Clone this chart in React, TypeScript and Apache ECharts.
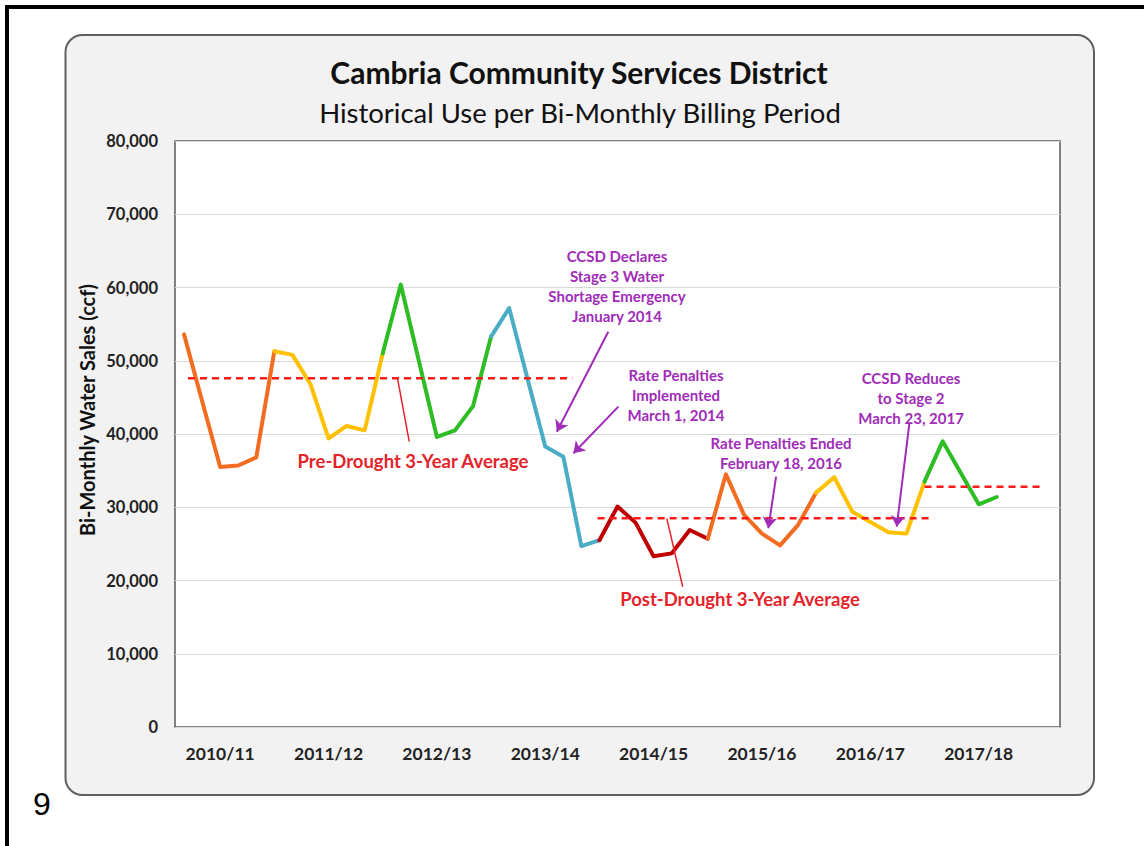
import React, { useEffect, useRef } from "react";
import * as echarts from "echarts";

// ---- data ----
const fiscalYears = ["2010/11", "2011/12", "2012/13", "2013/14", "2014/15", "2015/16", "2016/17", "2017/18", "2018/19"];
const periodsPerYear = 6;
const categoryCount = 49;
const categories: string[] = Array.from({ length: categoryCount }, (_, i) => fiscalYears[Math.floor(i / periodsPerYear)] + " P" + ((i % periodsPerYear) + 1));

// bi-monthly water sales (ccf)
const salesValues = [
  53600, 44500, 35500, 35700, 36800, 51300,
  50800, 46800, 39400, 41100, 40500, 51000,
  60400, 50000, 39600, 40500, 43800, 53300,
  57200, 47700, 38300, 36900, 24700, 25500,
  30100, 27900, 23300, 23700, 26900, 25700,
  34500, 29000, 26400, 24800, 27600, 32000,
  34100, 29400, 28000, 26600, 26400, 33500,
  39000, 34700, 30400, 31400,
];
const yearColors = ["#f26d21", "#ffc000", "#2ebd24", "#4bacc6", "#c00000", "#f26d21", "#ffc000", "#2ebd24"];

const yTicks = { min: 0, max: 80000, interval: 10000 };

// averages: [startIndex, endIndex, value]
const averageLines: [number, number, number][] = [
  [0.22, 21.5, 47600],
  [22.9, 41.5, 28500],
  [41.0, 47.6, 32800],
];
// leader lines from average lines to their labels
const averageLeaders: [number, number, number, number][] = [
  [11.81, 47740, 12.47, 38950],
  [26.73, 28490, 27.61, 19150],
];
// annotation arrows [x1, y1, x2, y2] (x = period index)
const eventArrows: [number, number, number, number][] = [
  [23.49, 53970, 20.64, 40310],
  [24.05, 43730, 21.56, 37370],
  [32.78, 34170, 32.35, 27130],
  [40.16, 41460, 39.46, 27340],
];

const eventTexts = [
  { text: "CCSD Declares\nStage 3 Water\nShortage Emergency\nJanuary 2014", x: 617, y: 286 },
  { text: "Rate Penalties\nImplemented\nMarch 1, 2014", x: 676, y: 395 },
  { text: "Rate Penalties Ended\nFebruary 18, 2016", x: 781, y: 453 },
  { text: "CCSD Reduces\nto Stage 2\nMarch 23, 2017", x: 911, y: 398 },
];
const averageTexts = [
  { text: "Pre-Drought 3-Year Average", x: 413, y: 461 },
  { text: "Post-Drought 3-Year Average", x: 740, y: 599 },
];

const FONT = "Lato, 'Open Sans', sans-serif";
const PURPLE = "#a02cb8";
const RED = "#e3242b";

function textEl(text: string, x: number, y: number, size: number, weight: string, fill: string, lineHeight: number, extra: any = {}) {
  return {
    type: "text",
    x,
    y,
    z: 100,
    ...extra,
    style: {
      text,
      fontSize: size,
      fontWeight: weight,
      fontFamily: FONT,
      fill,
      textAlign: "center",
      textVerticalAlign: "middle",
      align: "center",
      verticalAlign: "middle",
      lineHeight,
    },
  };
}

export default function App() {
  const ref = useRef<HTMLDivElement>(null);
  useEffect(() => {
    document.body.style.margin = "0";
    if (!ref.current) return;
    const chart = echarts.init(ref.current, null, { renderer: "svg" });

    const yearSeries = yearColors.map((color, k) => ({
      type: "line",
      name: fiscalYears[k],
      xAxisIndex: 0,
      yAxisIndex: 0,
      symbol: "none",
      connectNulls: false,
      lineStyle: { color, width: 4, cap: "round", join: "round" },
      z: 5,
      data: categories.map((_, i) =>
        i >= k * periodsPerYear - 1 && i <= k * periodsPerYear + 5 && i < salesValues.length ? salesValues[i] : null
      ),
    }));

    const avgSeries = averageLines.map(([a, b, v]) => ({
      type: "line",
      xAxisIndex: 1,
      yAxisIndex: 0,
      symbol: "none",
      lineStyle: { color: "#ff1a1a", width: 2.5, type: [7, 5] },
      z: 6,
      data: [[a, v], [b, v]],
    }));

    const leaderSeries = {
      type: "lines",
      coordinateSystem: "cartesian2d",
      xAxisIndex: 1,
      yAxisIndex: 0,
      symbol: "none",
      lineStyle: { color: RED, width: 1.5, opacity: 1 },
      z: 6,
      data: averageLeaders.map(([x1, y1, x2, y2]) => ({ coords: [[x1, y1], [x2, y2]] })),
    };

    const arrowSeries = {
      type: "lines",
      coordinateSystem: "cartesian2d",
      xAxisIndex: 1,
      yAxisIndex: 0,
      symbol: ["none", "arrow"],
      symbolSize: [0, 11],
      lineStyle: { color: PURPLE, width: 2, opacity: 1 },
      z: 7,
      data: eventArrows.map(([x1, y1, x2, y2]) => ({ coords: [[x1, y1], [x2, y2]] })),
    };

    const graphics: any[] = [
      { type: "rect", z: -20, shape: { x: 5, y: 5, width: 1139, height: 4 }, style: { fill: "#000" } },
      { type: "rect", z: -20, shape: { x: 5, y: 5, width: 4, height: 841 }, style: { fill: "#000" } },
      {
        type: "rect",
        z: -10,
        shape: { x: 65.5, y: 35, width: 1028.5, height: 760, r: 17 },
        style: { fill: "#f2f2f2", stroke: "#5f5f5f", lineWidth: 2 },
      },
      {
        type: "text",
        x: 33,
        y: 820,
        z: 100,
        style: { text: "9", fontSize: 32, fontFamily: "'Liberation Sans', Arial, sans-serif", fill: "#000", textAlign: "left", align: "left", textVerticalAlign: "bottom", verticalAlign: "bottom" },
      },
      textEl("Cambria Community Services District", 579, 72, 30, "bold", "#111", 36),
      textEl("Historical Use per Bi-Monthly Billing Period", 580, 112, 27.5, "normal", "#111", 32),
      textEl("Bi-Monthly Water Sales (ccf)", 87, 410, 20, "bold", "#111", 24, { rotation: Math.PI / 2 }),
      ...eventTexts.map((t) => textEl(t.text, t.x, t.y, 15, "bold", PURPLE, 20)),
      ...averageTexts.map((t) => textEl(t.text, t.x, t.y, 18.5, "bold", RED, 22)),
    ];

    chart.setOption({
      animation: false,
      backgroundColor: "#fff",
      textStyle: { fontFamily: FONT },
      grid: {
        left: 175,
        top: 141,
        right: 84,
        bottom: 119,
        show: true,
        backgroundColor: "#fff",
        borderColor: "#5a5a5a",
        borderWidth: 1.5,
        containLabel: false,
      },
      xAxis: [
        {
          type: "category",
          data: categories,
          boundaryGap: true,
          axisLine: { show: false },
          axisTick: { show: false },
          axisLabel: {
            interval: (index: number) => index % periodsPerYear === 2,
            formatter: (v: string) => v.split(" ")[0],
            fontSize: 17.5,
            fontWeight: "bold",
            color: "#222",
            fontFamily: FONT,
            margin: 17,
          },
          splitLine: { show: false },
        },
        { type: "value", min: -0.5, max: categoryCount - 0.5, show: false },
      ],
      yAxis: {
        type: "value",
        min: yTicks.min,
        max: yTicks.max,
        interval: yTicks.interval,
        axisLine: { show: false },
        axisTick: { show: false },
        axisLabel: {
          formatter: (v: number) => v.toLocaleString("en-US"),
          fontSize: 16.5,
          fontWeight: "bold",
          color: "#222",
          fontFamily: FONT,
          margin: 17,
        },
        splitLine: { lineStyle: { color: "#d9d9d9", width: 1 } },
      },
      graphic: { elements: graphics },
      series: [...yearSeries, ...avgSeries, leaderSeries, arrowSeries],
    });
    return () => chart.dispose();
  }, []);
  return <div ref={ref} style={{ width: 1144, height: 846 }} />;
}
